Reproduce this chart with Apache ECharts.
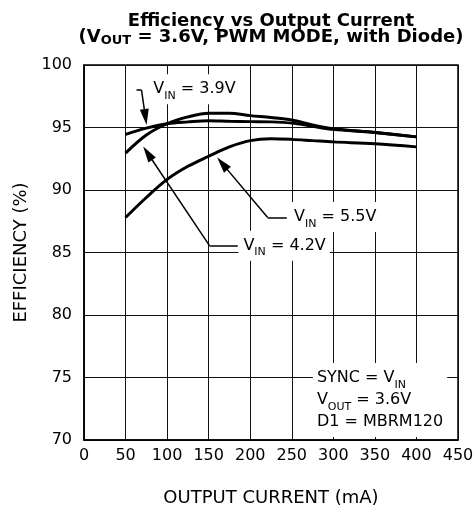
<!DOCTYPE html>
<html>
<head>
<meta charset="utf-8">
<script src="https://cdn.jsdelivr.net/npm/echarts@6/dist/echarts.min.js"></script>
<style>
  html, body { margin: 0; padding: 0; background: #fff; }
  #chart { width: 476px; height: 508px; }
</style>
</head>
<body>
<div id="chart"></div>
<script>
// output current (mA)
var current = [50, 75, 100, 125, 150, 175, 200, 225, 250, 275, 300, 350, 400]
// efficiency (%) per input voltage
var vin39 = [94.45, 94.95, 95.3, 95.45, 95.55, 95.5, 95.47, 95.45, 95.35, 95.1, 94.85, 94.6, 94.25]
var vin42 = [92.95, 94.4, 95.3, 95.85, 96.15, 96.15, 95.95, 95.8, 95.6, 95.2, 94.9, 94.6, 94.25]
var vin55 = [87.8, 89.4, 90.85, 91.9, 92.7, 93.45, 93.95, 94.1, 94.05, 93.95, 93.85, 93.7, 93.45]

var seriesNames = ['VIN = 3.9V', 'VIN = 4.2V', 'VIN = 5.5V']
var noteTexts = [
  '{t|V}{s|IN}{t| = 3.9V}',
  '{t|V}{s|IN}{t| = 4.2V}',
  '{t|V}{s|IN}{t| = 5.5V}',
  '{t|SYNC = V}{s|IN}\n{t|V}{s|OUT}{t| = 3.6V}\n{t|D1 = MBRM120}'
]

var FONT = 'DejaVu Sans'

function pairs(ys) {
  return current.map(function (x, i) { return [x, ys[i]] })
}

var rich = {
  t: { fontFamily: FONT, fontSize: 16, color: '#000', lineHeight: 22 },
  s: { fontFamily: FONT, fontSize: 11, color: '#000', lineHeight: 12, padding: [14, 0, 0, 0] }
}

function note(x, y, text, pad) {
  return {
    coord: [x, y],
    symbol: 'circle',
    symbolSize: 1,
    itemStyle: { color: 'rgba(0,0,0,0)' },
    label: {
      show: true,
      position: 'right',
      distance: 0,
      align: 'left',
      formatter: text,
      backgroundColor: '#fff',
      padding: pad,
      rich: rich
    }
  }
}

// leader segment, optional arrow head at the end
function leader(a, b, arrow) {
  return [
    { coord: a, symbol: 'none' },
    arrow ? { coord: b, symbol: 'triangle', symbolSize: [9, 16] } : { coord: b, symbol: 'none' }
  ]
}

function curve(name, ys, extra) {
  var s = {
    name: name,
    type: 'line',
    data: pairs(ys),
    smooth: 0.35,
    showSymbol: false,
    symbol: 'none',
    silent: true,
    lineStyle: { color: '#000', width: 3 },
    z: 3
  }
  if (extra) {
    for (var k in extra) s[k] = extra[k]
  }
  return s
}

var chart = echarts.init(document.getElementById('chart'))

chart.setOption({
  animation: false,
  textStyle: { fontFamily: FONT, color: '#000' },
  title: {
    text: '{b|Efficiency vs Output Current}\n{b|(V}{bs|OUT}{b| = 3.6V, PWM MODE, with Diode)}',
    left: 266,
    top: 8,
    textAlign: 'center',
    textStyle: {
      rich: {
        b: { fontFamily: FONT, fontWeight: 'bold', fontSize: 18, lineHeight: 16, color: '#000' },
        bs: { fontFamily: FONT, fontWeight: 'bold', fontSize: 13, lineHeight: 12, color: '#000', padding: [7, 0, 0, 0] }
      }
    }
  },
  grid: {
    left: 84,
    right: 18,
    top: 65,
    bottom: 68,
    outerBoundsMode: 'none',
    show: true,
    borderColor: '#000',
    borderWidth: 1.5
  },
  xAxis: {
    type: 'value',
    min: 0,
    max: 450,
    interval: 50,
    name: 'OUTPUT CURRENT (mA)',
    nameLocation: 'middle',
    nameGap: 49,
    nameTextStyle: { fontFamily: FONT, fontSize: 18, color: '#000' },
    axisLine: { show: true, lineStyle: { color: '#000', width: 1.5 } },
    axisTick: { show: false },
    axisLabel: { fontFamily: FONT, fontSize: 16, color: '#000', margin: 8 },
    splitLine: { show: true, lineStyle: { color: '#111', width: 1 } }
  },
  yAxis: {
    type: 'value',
    min: 70,
    max: 100,
    interval: 5,
    name: 'EFFICIENCY (%)',
    nameLocation: 'middle',
    nameGap: 54,
    nameTextStyle: { fontFamily: FONT, fontSize: 18, color: '#000' },
    axisLine: { show: true, lineStyle: { color: '#000', width: 1.5 } },
    axisTick: { show: false },
    axisLabel: { fontFamily: FONT, fontSize: 16, color: '#000', margin: 12 },
    splitLine: { show: true, lineStyle: { color: '#111', width: 1 } }
  },
  series: [
    curve(seriesNames[0], vin39, {
      markLine: {
        silent: true,
        animation: false,
        label: { show: false },
        lineStyle: { color: '#000', width: 1.5, type: 'solid' },
        data: [
          leader([63.2, 98], [69.2, 98], false),
          leader([69.2, 98], [73.9, 95.83], true),
          leader([151, 85.55], [185, 85.55], false),
          leader([151, 85.55], [76.6, 92.94], true),
          leader([221, 87.8], [244, 87.8], false),
          leader([221, 87.8], [166.4, 92.11], true)
        ]
      },
      markPoint: {
        silent: true,
        animation: false,
        data: [
          note(75.6, 98.06, noteTexts[0], [4, 4, 4, 6]),
          note(185.2, 85.55, noteTexts[1], [4, 4, 4, 5]),
          note(244.8, 87.84, noteTexts[2], [4, 4, 4, 6]),
          note(274.8, 73.2, noteTexts[3], [4, 4, 4, 4])
        ]
      }
    }),
    curve(seriesNames[1], vin42),
    curve(seriesNames[2], vin55)
  ]
})
</script>
</body>
</html>
